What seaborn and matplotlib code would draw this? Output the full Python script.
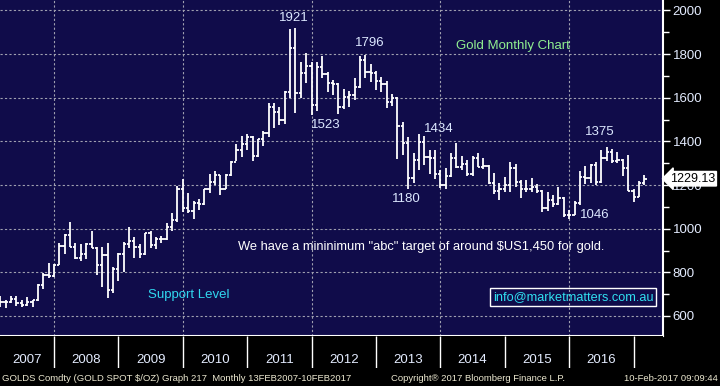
import matplotlib
matplotlib.use("Agg")
import matplotlib.pyplot as plt
import seaborn as sns
import pandas as pd

# Monthly OHLC, gold spot, Feb 2007 - Feb 2017
opens = [650, 665, 663, 679, 658, 650, 665, 672, 743, 789, 783,
         834, 923, 972, 916, 864, 885, 928, 913, 834, 880, 718, 816,
         882, 928, 943, 916, 884, 979, 927, 955, 955, 1008, 1040, 1181,
         1097, 1083, 1118, 1113, 1180, 1214, 1244, 1181, 1248, 1307, 1359, 1386,
         1421, 1332, 1410, 1439, 1556, 1536, 1500, 1628, 1826, 1624, 1714, 1746,
         1565, 1740, 1711, 1668, 1664, 1560, 1604, 1614, 1648, 1772, 1719, 1712,
         1675, 1663, 1579, 1598, 1472, 1393, 1234, 1313, 1396, 1327, 1323, 1250,
         1202, 1240, 1326, 1284, 1296, 1250, 1322, 1282, 1287, 1208, 1171, 1183,
         1199, 1279, 1212, 1183, 1183, 1190, 1172, 1095, 1132, 1115, 1142, 1064,
         1061, 1118, 1238, 1233, 1293, 1215, 1322, 1351, 1309, 1316, 1277, 1173,
         1146, 1211]
highs = [690, 673, 692, 691, 672, 685, 675, 745, 795, 845, 838,
         934, 975, 1033, 936, 932, 935, 988, 915, 917, 936, 825, 888,
         937, 1006, 961, 930, 981, 989, 960, 967, 1025, 1070, 1195, 1227,
         1162, 1127, 1138, 1180, 1249, 1265, 1245, 1251, 1308, 1388, 1424, 1432,
         1424, 1411, 1448, 1577, 1577, 1556, 1632, 1913, 1921, 1764, 1803, 1765,
         1764, 1791, 1719, 1680, 1668, 1641, 1630, 1692, 1790, 1796, 1755, 1723,
         1694, 1676, 1616, 1605, 1487, 1419, 1348, 1434, 1425, 1361, 1361, 1267,
         1280, 1345, 1392, 1331, 1315, 1332, 1345, 1322, 1293, 1256, 1208, 1238,
         1307, 1298, 1224, 1224, 1232, 1205, 1176, 1170, 1156, 1191, 1145, 1088,
         1128, 1263, 1287, 1298, 1304, 1362, 1375, 1367, 1352, 1318, 1338, 1180,
         1220, 1244]
lows = [643, 636, 660, 648, 640, 646, 642, 670, 725, 775, 780,
        834, 885, 917, 860, 850, 860, 910, 786, 735, 681, 705, 760,
        802, 913, 866, 865, 878, 910, 908, 933, 950, 990, 1030, 1075,
        1074, 1044, 1087, 1110, 1164, 1201, 1155, 1180, 1243, 1308, 1330, 1360,
        1308, 1330, 1381, 1420, 1462, 1477, 1480, 1600, 1532, 1600, 1670, 1523,
        1540, 1690, 1627, 1613, 1527, 1550, 1560, 1590, 1645, 1692, 1672, 1635,
        1627, 1555, 1562, 1321, 1338, 1180, 1208, 1270, 1292, 1251, 1227, 1187,
        1182, 1238, 1277, 1268, 1240, 1240, 1281, 1274, 1204, 1160, 1131, 1170,
        1167, 1191, 1142, 1169, 1170, 1162, 1077, 1080, 1098, 1107, 1052, 1046,
        1061, 1108, 1206, 1208, 1200, 1208, 1310, 1301, 1302, 1241, 1171, 1123,
        1146, 1200]
closes = [665, 663, 679, 658, 650, 665, 672, 743, 789, 783, 834,
          923, 972, 916, 864, 885, 928, 913, 834, 880, 718, 816, 882,
          928, 943, 916, 884, 979, 927, 955, 955, 1008, 1040, 1181, 1097,
          1083, 1118, 1113, 1180, 1214, 1244, 1181, 1248, 1307, 1359, 1386, 1421,
          1332, 1410, 1439, 1556, 1536, 1500, 1628, 1826, 1624, 1714, 1746, 1565,
          1740, 1711, 1668, 1664, 1560, 1604, 1614, 1648, 1772, 1719, 1712, 1675,
          1663, 1579, 1598, 1472, 1393, 1234, 1313, 1396, 1327, 1323, 1250, 1202,
          1240, 1326, 1284, 1296, 1250, 1322, 1282, 1287, 1208, 1171, 1183, 1199,
          1279, 1212, 1183, 1183, 1190, 1172, 1095, 1132, 1115, 1142, 1064, 1061,
          1118, 1238, 1233, 1293, 1215, 1322, 1351, 1309, 1316, 1277, 1173, 1146,
          1211, 1229.13]

years = list(range(2007, 2017))
yticks = [600, 800, 1000, 1200, 1400, 1600, 1800, 2000]
peaks = [("1921", 2011.73, 1966), ("1796", 2012.90, 1851), ("1523", 2012.22, 1475),
         ("1434", 2013.97, 1457), ("1180", 2013.47, 1136), ("1375", 2016.48, 1443),
         ("1046", 2016.40, 1063)]

df = pd.DataFrame({"date": pd.date_range("2007-02-01", periods=len(closes), freq="MS"),
                   "open": opens, "high": highs, "low": lows, "close": closes})
df["t"] = df["date"].dt.year + df["date"].dt.month / 12

bg = "#100c4a"
sns.set_style("dark", {"axes.facecolor": bg, "figure.facecolor": "black",
                       "grid.color": "#a0a0b0", "axes.edgecolor": "white"})
plt.rcParams["font.family"] = ["Liberation Sans", "DejaVu Sans"]

fig = plt.figure(figsize=(7.2, 3.86), dpi=100, facecolor="black")
ax = fig.add_axes([0, 50 / 386, 663 / 720, 336 / 386])
ax.set_facecolor(bg)

# OHLC bars
ax.vlines(df["t"], df["low"], df["high"], color="white", lw=1.3)
ax.hlines(df["open"], df["t"] - 0.035, df["t"], color="white", lw=1.3)
ax.hlines(df["close"], df["t"], df["t"] + 0.035, color="white", lw=1.3)

ax.set_xlim(2007.1615, 2017.457)
ax.set_ylim(508.3, 2048.1)
ax.set_xticks([2008, 2010, 2012, 2014, 2016])
ax.set_xticklabels([])
ax.set_yticks(yticks)
ax.set_yticks([700, 900, 1100, 1300, 1500, 1700, 1900], minor=True)
ax.yaxis.tick_right()
ax.tick_params(axis="y", which="major", colors="white", labelcolor="#e4ecff",
               labelsize=9.5, length=5, width=1, pad=2, direction="out")
ax.tick_params(axis="y", which="minor", colors="white", length=4, width=1)
ax.tick_params(axis="x", length=0)
ax.grid(True, which="major", color="#a0a0b0", ls=(0, (2, 2)), lw=0.8)
for s in ["top", "left"]:
    ax.spines[s].set_visible(False)
for s in ["right", "bottom"]:
    ax.spines[s].set_color("white")
    ax.spines[s].set_linewidth(1.5)

txt = "#dce8ff"
for label, x, y in peaks:
    ax.text(x, y, label, color=txt, fontsize=9.5, ha="center", va="center")
ax.text(2015.13, 1837, "Gold Monthly Chart", color="#90f090", fontsize=9.5,
        ha="center", va="center")
ax.text(2013.70, 916, 'We have a mininimum "abc" target of around $US1,450 for gold.',
        color="white", fontsize=9.3, ha="center", va="center")
ax.text(2010.10, 696, "Support Level", color="#30d8f0", fontsize=9.5,
        ha="center", va="center")
ax.text(2016.06, 687, "info@marketmatters.com.au", color="#30e0f0", fontsize=9.2,
        ha="center", va="center",
        bbox=dict(boxstyle="square,pad=0.2", fc="none", ec="white", lw=1))

# last price flag
ax.annotate("1229.13", xy=(1.0, closes[-1]), xycoords=("axes fraction", "data"),
            xytext=(5, 0), textcoords="offset points", ha="left", va="center",
            color="black", fontsize=9, annotation_clip=False, zorder=10,
            bbox=dict(boxstyle="larrow,pad=0.1", fc="white", ec="white"))

# year strip
ax2 = fig.add_axes([0, 18 / 386, 663 / 720, 32 / 386])
ax2.set_facecolor("black")
ax2.set_xlim(ax.get_xlim())
ax2.set_ylim(0, 1)
ax2.vlines([y + 1 for y in years], 0, 1, color="white", lw=1)
for y in years:
    xc = 2007.58 if y == 2007 else y + 0.5
    ax2.text(xc, 0.25, str(y), color="#e4ecff", fontsize=9.5, ha="center", va="center")
ax2.set_xticks([])
ax2.set_yticks([])
for s in ax2.spines.values():
    s.set_visible(False)

foot = "#ece8d0"
fig.text(2 / 720, 0.02, "GOLDS Comdty (GOLD SPOT $/OZ) Graph 217  Monthly 13FEB2007-10FEB2017",
         color=foot, fontsize=6.8, ha="left", va="center")
fig.text(391 / 720, 0.02, "Copyright\u00ae 2017 Bloomberg Finance L.P.",
         color=foot, fontsize=6.8, ha="left", va="center")
fig.text(718 / 720, 0.02, "10-Feb-2017 09:09:44",
         color=foot, fontsize=6.8, ha="right", va="center")

fig.savefig("out.png", dpi=100, facecolor="black")
